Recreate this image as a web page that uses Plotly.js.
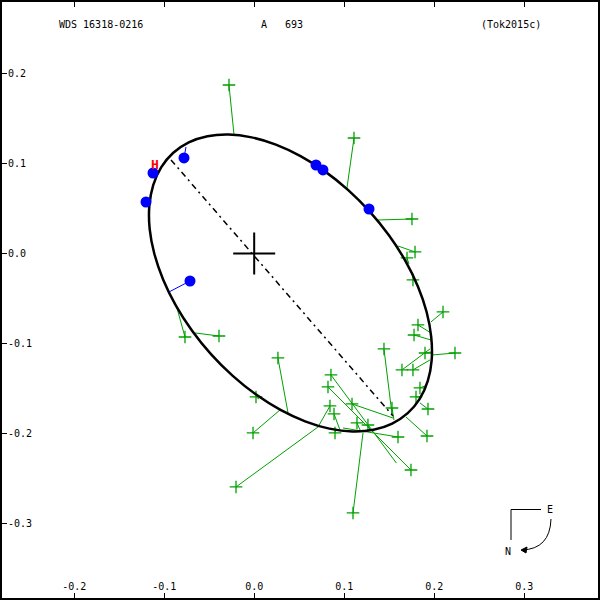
<!DOCTYPE html>
<html>
<head>
<meta charset="utf-8">
<script src="https://cdn.plot.ly/plotly-3.0.1.min.js"></script>
<style>
  html, body { margin: 0; padding: 0; background: #fff; }
  #chart { width: 600px; height: 600px; }
</style>
</head>
<body>
<div id="chart"></div>
<script>
// orbit ellipse, points (arcsec)
var orbitX = [0.1706, 0.1533, 0.1326, 0.1091, 0.0835, 0.0566, 0.0292, 0.0021, -0.0238, -0.0478,
  -0.0690, -0.0870, -0.1011, -0.1109, -0.1161, -0.1165, -0.1122, -0.1032, -0.0899, -0.0727,
  -0.0519, -0.0284, -0.0028, 0.0241, 0.0515, 0.0786, 0.1045, 0.1284, 0.1497, 0.1677,
  0.1818, 0.1916, 0.1967, 0.1972, 0.1929, 0.1839, 0.1706];
var orbitY = [-0.1774, -0.1890, -0.1959, -0.1977, -0.1946, -0.1865, -0.1738, -0.1568, -0.1360, -0.1121,
  -0.0858, -0.0579, -0.0291, -0.0006, 0.0270, 0.0528, 0.0760, 0.0959, 0.1119, 0.1235,
  0.1303, 0.1322, 0.1290, 0.1210, 0.1082, 0.0912, 0.0704, 0.0465, 0.0202, -0.0077,
  -0.0364, -0.0650, -0.0926, -0.1184, -0.1416, -0.1615, -0.1774];

// line of nodes
var nodesX = [-0.0924, 0.1542];
var nodesY = [0.1039, -0.1806];

// visual measures (green) and their predicted positions
var visX = [-0.0280, 0.1109, 0.1753, 0.1787, 0.1698, 0.1764, 0.2098, 0.1820, 0.1776, 0.2231,
  0.1898, 0.1642, 0.1764, 0.1842, 0.1798, 0.1931, 0.1920, 0.1442, 0.1531, 0.1598,
  -0.0769, -0.0391, 0.0020, -0.0013, -0.0202, 0.0264, 0.0853, 0.0820, 0.1087, 0.0842,
  0.0887, 0.1142, 0.1264, 0.0898, 0.1098, 0.1742];
var visY = [0.1872, 0.1283, 0.0383, 0.0017, -0.0050, -0.0294, -0.0650, -0.0794, -0.0906, -0.1106,
  -0.1106, -0.1294, -0.1294, -0.1494, -0.1594, -0.1728, -0.2028, -0.1061, -0.1717, -0.2039,
  -0.0928, -0.0917, -0.1594, -0.1994, -0.2594, -0.1161, -0.1350, -0.1483, -0.1672, -0.1694,
  -0.1783, -0.1883, -0.1906, -0.1994, -0.2883, -0.2406];
var visFitX = [-0.0224, 0.1031, 0.1376, 0.1598, 0.1720, 0.1809, 0.1964, 0.1964, 0.1964, 0.1976,
  0.1976, 0.1953, 0.1953, 0.1898, 0.1853, 0.1842, 0.1687, 0.1531, 0.1553, 0.0987,
  -0.0858, -0.0658, 0.0053, 0.0287, 0.0709, 0.0376, 0.1580, 0.1742, 0.1542, 0.0709,
  0.0953, 0.1176, 0.1287, 0.0909, 0.1209, 0.1742];
var visFitY = [0.1317, 0.0728, 0.0372, 0.0083, -0.0117, -0.0317, -0.0761, -0.0883, -0.0961, -0.1128,
  -0.1094, -0.1061, -0.1183, -0.1472, -0.1594, -0.1661, -0.1817, -0.1783, -0.1850, -0.1939,
  -0.0606, -0.0883, -0.1617, -0.1739, -0.1928, -0.1772, -0.2328, -0.2406, -0.1828, -0.1928,
  -0.1961, -0.1961, -0.1950, -0.1950, -0.1994, -0.2406];

// interferometric measures (blue) and predicted positions
var spkX = [-0.0780, -0.1124, -0.1202, -0.0713, 0.0687, 0.0764, 0.1276];
var spkY = [0.1061, 0.0894, 0.0572, -0.0306, 0.0983, 0.0928, 0.0494];
var spkFitX = [-0.0758, -0.1102, -0.1147, -0.0947, 0.0687, 0.0787, 0.1264];
var spkFitY = [0.1183, 0.0906, 0.0561, -0.0428, 0.0972, 0.0906, 0.0483];

// Hipparcos measure
var hipX = [-0.1102];
var hipY = [0.0972];

var tickVals = [-0.3, -0.2, -0.1, 0.0, 0.1, 0.2, 0.3];
var tickText = tickVals.map(function (v) { return v.toFixed(1); });

function residuals(ax, ay, bx, by) {
  var xs = [], ys = [];
  for (var i = 0; i < ax.length; i++) {
    xs.push(ax[i], bx[i], null);
    ys.push(ay[i], by[i], null);
  }
  return {x: xs, y: ys};
}

var green = '#00a000';
var font = {family: 'DejaVu Sans Mono, monospace', size: 10, color: '#000'};

var visRes = residuals(visX, visY, visFitX, visFitY);
var spkRes = residuals(spkX, spkY, spkFitX, spkFitY);

var data = [
  {x: visRes.x, y: visRes.y, mode: 'lines', line: {color: green, width: 1}, hoverinfo: 'skip'},
  {x: visX, y: visY, mode: 'markers',
   marker: {symbol: 'cross-thin', size: 9, line: {color: green, width: 1.3}}},
  {x: spkRes.x, y: spkRes.y, mode: 'lines', line: {color: '#0000ff', width: 1}, hoverinfo: 'skip'},
  {x: orbitX, y: orbitY, mode: 'lines', line: {color: '#000', width: 2.5, shape: 'spline', smoothing: 1}},
  {x: nodesX, y: nodesY, mode: 'lines', line: {color: '#000', width: 1.5, dash: '6px,4px,2px,4px'}},
  {x: spkX, y: spkY, mode: 'markers', marker: {symbol: 'circle', size: 11, color: '#0000ff'}},
  {x: hipX, y: hipY, mode: 'text', text: ['H'],
   textfont: {family: 'DejaVu Sans Mono, monospace', size: 13, color: '#ff0000', weight: 'bold'}},
  {x: [0], y: [0], mode: 'markers',
   marker: {symbol: 'cross-thin', size: 30, line: {color: '#000', width: 2}}}
];

// paper helpers (plot area is 596 px, 2 px margin)
function px(v) { return (v - 2) / 596; }
function py(v) { return (598 - v) / 596; }

var layout = {
  width: 600,
  height: 600,
  margin: {l: 2, r: 2, t: 2, b: 2},
  paper_bgcolor: '#fff',
  plot_bgcolor: '#fff',
  showlegend: false,
  font: font,
  xaxis: {
    range: [-0.2802, 0.3820],
    tickmode: 'array', tickvals: tickVals, ticktext: tickText,
    ticks: 'inside', ticklen: 5, tickcolor: '#000', tickwidth: 1,
    ticklabelposition: 'inside',
    showline: true, linecolor: '#000', linewidth: 2, mirror: 'ticks',
    showgrid: false, zeroline: false, tickfont: font
  },
  yaxis: {
    range: [-0.3828, 0.2794],
    tickmode: 'array', tickvals: tickVals, ticktext: tickText,
    ticks: 'inside', ticklen: 5, tickcolor: '#000', tickwidth: 1,
    ticklabelposition: 'inside',
    showline: true, linecolor: '#000', linewidth: 2, mirror: true,
    showgrid: false, zeroline: false, tickfont: font
  },
  annotations: [
    {text: 'WDS 16318-0216', x: px(57), y: py(24.5), xref: 'paper', yref: 'paper',
     xanchor: 'left', yanchor: 'middle', showarrow: false, font: font},
    {text: 'A\u00a0\u00a0\u00a0693', x: px(259), y: py(24.5), xref: 'paper', yref: 'paper',
     xanchor: 'left', yanchor: 'middle', showarrow: false, font: font},
    {text: '(Tok2015c)', x: px(479), y: py(24.5), xref: 'paper', yref: 'paper',
     xanchor: 'left', yanchor: 'middle', showarrow: false, font: font},
    {text: 'E', x: px(550), y: py(509), xref: 'paper', yref: 'paper',
     xanchor: 'center', yanchor: 'middle', showarrow: false, font: font},
    {text: 'N', x: px(508), y: py(551), xref: 'paper', yref: 'paper',
     xanchor: 'center', yanchor: 'middle', showarrow: false, font: font}
  ],
  shapes: [
    {type: 'line', xref: 'paper', yref: 'paper', x0: px(511), y0: py(509.5), x1: px(541), y1: py(509.5),
     line: {color: '#000', width: 1}},
    {type: 'line', xref: 'paper', yref: 'paper', x0: px(511), y0: py(509.5), x1: px(511), y1: py(540),
     line: {color: '#000', width: 1}},
    {type: 'path', xref: 'paper', yref: 'paper',
     path: 'M ' + px(551) + ' ' + py(519) + ' Q ' + px(550) + ' ' + py(549) + ' ' + px(522) + ' ' + py(550),
     line: {color: '#000', width: 1}},
    {type: 'path', xref: 'paper', yref: 'paper',
     path: 'M ' + px(521) + ' ' + py(550) + ' L ' + px(527) + ' ' + py(547) + ' L ' + px(526) + ' ' + py(553) + ' Z',
     fillcolor: '#000', line: {color: '#000', width: 1}}
  ]
};

Plotly.newPlot('chart', data, layout, {staticPlot: true});
</script>
</body>
</html>
